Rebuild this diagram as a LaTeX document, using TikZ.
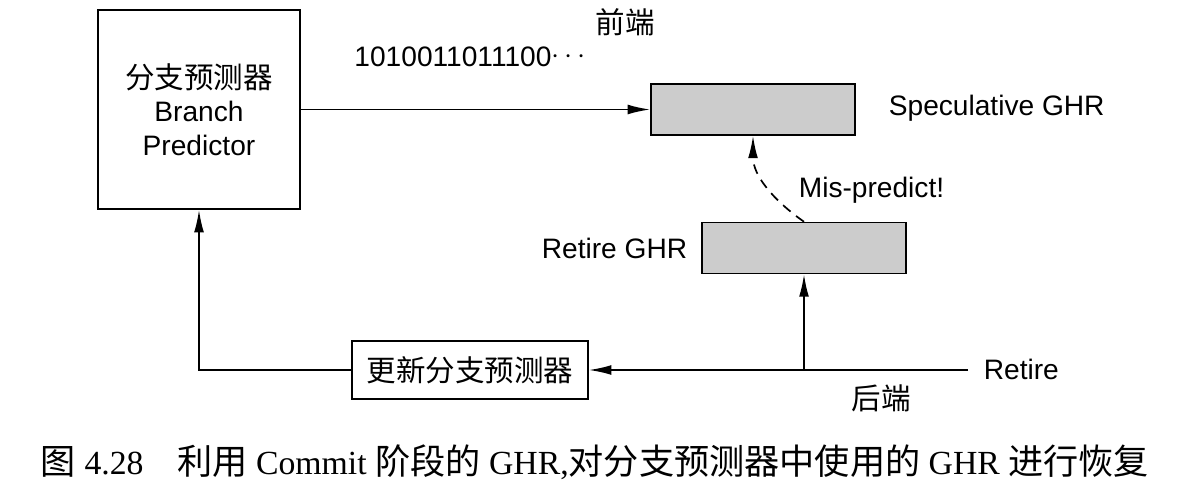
\documentclass[tikz,border=0pt]{standalone}
\usepackage{fontspec}
\setmainfont{Liberation Sans}
\newfontfamily\cjk{Noto Sans CJK SC}
\newfontfamily\capserif{Liberation Serif}
\usetikzlibrary{arrows.meta}

\tikzset{
  box/.style={draw, line width=1.2pt, inner sep=0pt},
  ghr/.style={box, fill=gray!40, minimum width=5.1cm, minimum height=1.27cm},
  lbl/.style={inner sep=0pt},
  arr/.style={-{Latex[length=16pt,width=7pt]}}
}
\newcommand{\zh}[1]{{\cjk\fontsize{21}{24}\selectfont #1}}
\newcommand{\zhcap}[1]{{\cjk\fontsize{25}{28}\selectfont #1}}

\begin{document}
\begin{tikzpicture}[x=0.025cm, y=0.025cm, line width=1.2pt,
    font=\fontsize{20}{24}\selectfont]
            \useasboundingbox (0,0) rectangle (1190,494);

            \node[box, minimum width=5.05cm, minimum height=4.975cm, align=center] (bp) at (199,384.5)
                {\zh{分支预测器}\\Branch\\Predictor};
            \node[ghr] (spec) at (753,384.5) {};
            \node[ghr] (retire) at (804,246) {};
            \node[box, minimum width=5.9cm, minimum height=1.45cm] (upd) at (470,124) {\zh{更新分支预测器}};
            \coordinate (ret) at (968,124);

            \node[lbl] (fe) at (625,472) {\zh{前端}};
            \node[lbl] (bits) at (470,437) {1010011011100\raisebox{0.12em}{$\cdots$}};
            \node[lbl, anchor=west] (specl) at (888,386) {Speculative GHR};
            \node[lbl, anchor=west] (mis) at (798,304) {Mis-predict!};
            \node[lbl, anchor=east] (retl) at (688,246) {Retire GHR};
            \node[lbl, anchor=west] (retire label) at (983,125) {Retire};
            \node[lbl] (be) at (881,96) {\zh{后端}};

            \draw[arr] (bp) -- (spec);
            \draw[arr, dashed, dash pattern=on 7pt off 5pt] (retire.north) to[out=145,in=-90] (spec.south);
            \draw[arr] (ret) -- (upd);
            \draw[arr] (retire.south |- ret) -- (retire.south);
            \draw[arr] (upd.west) -- (bp.south |- upd.west) -- (bp.south);

            \node[lbl, font=\capserif\fontsize{24}{28}\selectfont] (cap) at (595,32)
                {\zhcap{图} 4.28\quad \zhcap{利用} Commit \zhcap{阶段的} GHR,\zhcap{对分支预测器中使用的} GHR \zhcap{进行恢复}};
        \end{tikzpicture}
\end{document}
